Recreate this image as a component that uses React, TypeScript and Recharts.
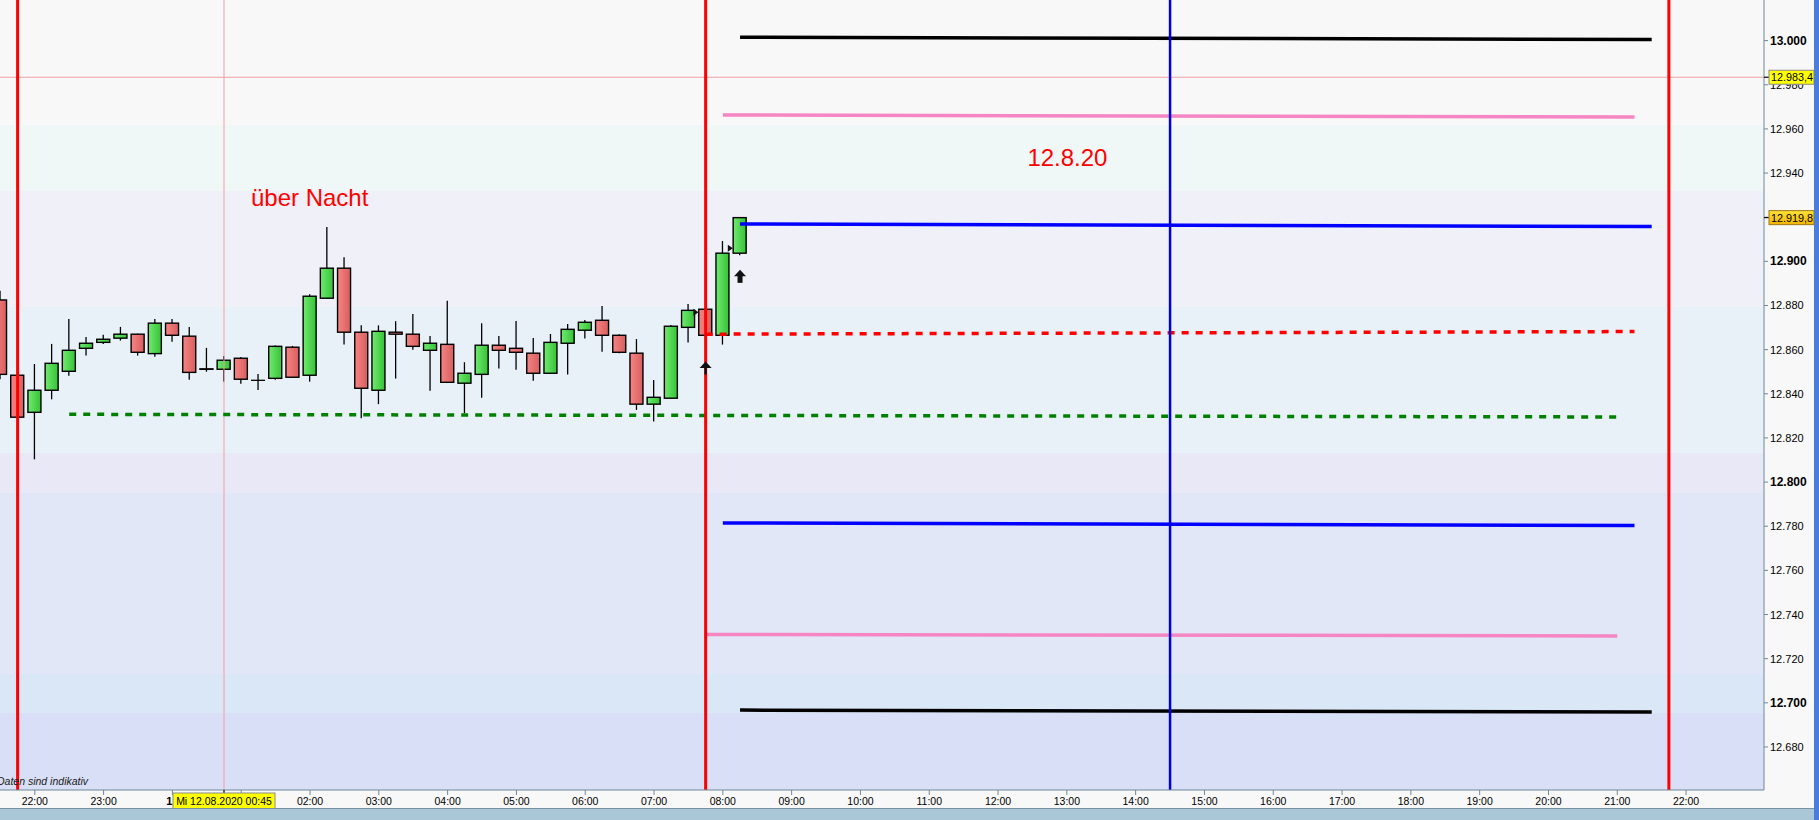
import React from 'react'
import {
  Bar,
  ComposedChart,
  ReferenceArea,
  ReferenceLine,
  Scatter,
  XAxis,
  YAxis,
} from 'recharts'

// x is minutes after 22:00 on 11.08.2020
const T = (hhmm: string, day = 12) => {
  const [h, m] = hhmm.split(':').map(Number)
  return (day - 11) * 1440 + h * 60 + m - 22 * 60
}

const candleTimes = [
  '21:30', '21:45', '22:00', '22:15', '22:30', '22:45', '23:00', '23:15', '23:30', '23:45',
  '00:00', '00:15', '00:30', '00:45', '01:00', '01:15', '01:30', '01:45', '02:00', '02:15',
  '02:30', '02:45', '03:00', '03:15', '03:30', '03:45', '04:00', '04:15', '04:30', '04:45',
  '05:00', '05:15', '05:30', '05:45', '06:00', '06:15', '06:30', '06:45', '07:00', '07:15',
  '07:30', '07:45', '08:00', '08:15',
]
const opens = [
  12882.5, 12848.4, 12831.6, 12841.6, 12850.2, 12860.6, 12863.3, 12865.2, 12867.0, 12858.2,
  12872.0, 12866.1, 12851.3, 12851.1, 12856.1, 12846.1, 12847.0, 12861.1, 12848.4, 12883.3,
  12896.9, 12867.9, 12841.6, 12867.9, 12867.0, 12859.7, 12862.4, 12844.8, 12848.8, 12862.0,
  12860.6, 12858.4, 12849.3, 12862.9, 12868.8, 12873.3, 12866.5, 12858.4, 12835.3, 12838.0,
  12870.1, 12878.3, 12866.5, 12903.7,
]
const highs = [
  12886.7, 12848.6, 12853.5, 12862.6, 12873.9, 12865.7, 12866.7, 12870.3, 12867.2, 12873.9,
  12873.9, 12870.3, 12860.8, 12857.1, 12856.7, 12849.0, 12861.9, 12861.7, 12885.1, 12915.6,
  12901.9, 12871.0, 12871.0, 12872.9, 12876.2, 12866.2, 12882.1, 12854.3, 12872.0, 12866.2,
  12873.0, 12865.3, 12867.1, 12871.6, 12873.4, 12879.8, 12867.0, 12864.8, 12846.3, 12871.2,
  12880.7, 12878.5, 12909.2, 12920.0,
]
const lows = [
  12846.6, 12829.2, 12810.3, 12837.5, 12848.2, 12857.3, 12862.6, 12864.1, 12857.3, 12856.8,
  12863.6, 12846.4, 12850.0, 12845.5, 12844.6, 12841.7, 12846.4, 12847.3, 12845.5, 12883.1,
  12862.3, 12828.9, 12835.3, 12846.9, 12860.0, 12841.4, 12845.0, 12831.2, 12838.2, 12851.4,
  12850.9, 12845.9, 12849.1, 12848.7, 12865.0, 12859.1, 12858.4, 12832.7, 12827.4, 12837.8,
  12863.2, 12866.3, 12862.3, 12902.8,
]
const closes = [
  12848.8, 12829.4, 12841.6, 12853.8, 12859.7, 12862.9, 12864.7, 12867.0, 12858.8, 12872.0,
  12866.5, 12849.7, 12851.1, 12855.2, 12846.6, 12846.1, 12861.5, 12847.5, 12884.2, 12896.9,
  12867.9, 12842.5, 12868.3, 12867.0, 12861.5, 12862.9, 12845.2, 12849.3, 12862.0, 12859.7,
  12858.8, 12849.3, 12863.3, 12869.2, 12872.4, 12866.5, 12858.8, 12835.3, 12838.4, 12870.6,
  12877.8, 12866.5, 12903.7, 12919.8,
]

// drawn support / resistance levels
const levelFrom = [T('08:15'), T('08:00'), T('08:15'), T('07:45'), T('22:30', 11), T('08:00'), T('07:45'), T('08:15')]
const levelTo = [T('21:30'), T('21:15'), T('21:30'), T('21:15'), T('21:00'), T('21:15'), T('21:00'), T('21:30')]
const levelFromValue = [13001.5, 12966.3, 12916.9, 12867.0, 12830.7, 12781.5, 12731.0, 12696.7]
const levelToValue = [13000.5, 12965.4, 12915.8, 12868.2, 12829.5, 12780.3, 12730.3, 12695.8]
const levelColors = ['#000000', '#f585c3', '#0000ff', '#ff0000', '#008000', '#0000ff', '#f585c3', '#000000']
const levelDashed = [false, false, false, true, true, false, false, false]

const sessionLines = [T('21:45', 11), T('07:45'), T('21:45')]
const midLine = T('14:30')
const crossTime = T('00:45')
const crossPrice = 12983.4
const lastPrice = 12919.8

const bandEdges = [13018.4, 12961.8, 12931.9, 12879.4, 12813.2, 12795.1, 12713.1, 12695.4, 12660.5]
const bandColors = ['#f8f8f8', '#f0f8f7', '#f0f0f9', '#e9f1f8', '#e8e8f7', '#e1e7f6', '#d9e7f6', '#d8dff7']

const upArrows = [
  { m: T('08:15'), v: 12893.2 },
  { m: T('07:45'), v: 12851.7 },
]
const pointers = [
  { m: T('08:00'), v: 12905.9 },
  { m: T('07:30'), v: 12876.9 },
]
const notes = [
  { m: 188.5, v: 12925.2, text: 'über Nacht' },
  { m: 865.6, v: 12943.2, text: '12.8.20' },
]

const xTicks = [
  0, 60, 120, 180, 240, 300, 360, 420, 480, 540, 600, 660, 720, 780, 840, 900, 960, 1020,
  1080, 1140, 1200, 1260, 1320, 1380, 1440, crossTime,
]
const yTicks = [
  12680, 12700, 12720, 12740, 12760, 12780, 12800, 12820, 12840, 12860, 12880, 12900, 12920,
  12940, 12960, 12980, 13000, 13020, lastPrice, crossPrice,
]

const candles = candleTimes.map((t, i) => ({
  m: T(t, Number(t.slice(0, 2)) >= 21 ? 11 : 12),
  o: opens[i],
  h: highs[i],
  l: lows[i],
  c: closes[i],
  range: [lows[i], highs[i]],
}))

const FONT = '"Liberation Sans", Arial, sans-serif'

const fmtPrice = (v: number, withDecimal = false) => {
  const int = Math.floor(v)
  const s = String(int)
  const base = `${s.slice(0, -3)}.${s.slice(-3)}`
  return withDecimal ? `${base},${Math.round((v - int) * 10)}` : base
}

const fmtTime = (m: number) => {
  const h = (22 + Math.floor(m / 60)) % 24
  const mm = m % 60
  return `${String(h).padStart(2, '0')}:${String(mm).padStart(2, '0')}`
}

const Candle = (props: any) => {
  const { x, y, width, height, payload } = props
  const { o, h, l, c } = payload
  const py = (v: number) => y + ((h - v) / (h - l)) * height
  const cx = x + width / 2
  const top = py(Math.max(o, c))
  const bot = py(Math.min(o, c))
  return (
    <g>
      <line x1={cx} x2={cx} y1={y} y2={y + height} stroke="#000" strokeWidth={1.3} />
      {o === c ? (
        <line x1={cx - 7} x2={cx + 7} y1={top} y2={top} stroke="#000" strokeWidth={1.3} />
      ) : (
        <rect
          x={cx - 6.5}
          y={top}
          width={13}
          height={Math.max(bot - top, 0.4)}
          fill={c >= o ? 'url(#candle-up)' : 'url(#candle-down)'}
          stroke="#000"
          strokeWidth={1.4}
        />
      )}
    </g>
  )
}

const TimeTick = (props: any) => {
  const { x, y, payload } = props
  const m = payload.value
  if (m === crossTime) {
    return (
      <g>
        <line x1={x} x2={x} y1={y - 7} y2={y - 2} stroke="#000" />
        <rect x={x - 51} y={y - 4} width={102} height={16} fill="#ffff00" stroke="#8a8a8a" />
        <text x={x} y={y + 8} textAnchor="middle" fontSize={10.5} fontFamily={FONT} fill="#000">
          Mi 12.08.2020 00:45
        </text>
      </g>
    )
  }
  const dayChange = m === 120
  return (
    <text
      x={x}
      y={y + 8}
      textAnchor="middle"
      fontSize={dayChange ? 11 : 10.5}
      fontWeight={dayChange ? 'bold' : 'normal'}
      fontFamily={FONT}
      fill="#000"
    >
      {dayChange ? '12' : fmtTime(m)}
    </text>
  )
}

const PriceTick = (props: any) => {
  const { x, y, payload } = props
  const v = payload.value
  if (v === crossPrice || v === lastPrice) {
    const last = v === lastPrice
    return (
      <g>
        <line x1={x - 6} x2={x - 1} y1={y} y2={y} stroke="#000" />
        <rect
          x={x - 1}
          y={y - 7}
          width={45}
          height={14}
          fill={last ? 'url(#last-box)' : '#ffff00'}
          stroke={last ? '#9a7a10' : '#8a8a8a'}
        />
        <text x={x + 1} y={y + 4} fontSize={10.8} fontFamily={FONT} fill="#000">
          {fmtPrice(v, true)}
        </text>
      </g>
    )
  }
  const bold = v % 100 === 0
  return (
    <text
      x={x}
      y={y + 4}
      fontSize={bold ? 12 : 11}
      fontWeight={bold ? 'bold' : 'normal'}
      fontFamily={FONT}
      fill="#000"
    >
      {fmtPrice(v)}
    </text>
  )
}

const UpArrow = (props: any) => {
  const { cx, cy, index } = props
  const stem = index === 0 ? 5 : 2.5
  return (
    <g>
      <polygon points={`${cx - 6},${cy} ${cx},${cy - 6.5} ${cx + 6},${cy}`} fill="#111" />
      <rect x={cx - stem / 2} y={cy - 0.5} width={stem} height={7} fill="#111" />
    </g>
  )
}

const Pointer = (props: any) => {
  const { cx, cy } = props
  return <polygon points={`${cx + 5},${cy - 3.5} ${cx + 10},${cy} ${cx + 5},${cy + 3.5}`} fill="#111" />
}

const Note = (props: any) => {
  const { cx, cy, payload } = props
  return (
    <text x={cx} y={cy} fontSize={24} fontFamily={FONT} fill="#ff0000">
      {payload.text}
    </text>
  )
}

export default function App() {
  return (
    <div
      style={{
        position: 'absolute',
        left: 0,
        top: 0,
        width: 1819,
        height: 820,
        background: '#f8f8f8',
        overflow: 'hidden',
      }}
    >
      <ComposedChart
        width={1814}
        height={808}
        data={candles}
        margin={{ top: 0, right: 0, bottom: 0, left: 0 }}
      >
        <defs>
          <linearGradient id="candle-up" x1="0" y1="0" x2="1" y2="0">
            <stop offset="0" stopColor="#70ea70" />
            <stop offset="1" stopColor="#36c236" />
          </linearGradient>
          <linearGradient id="candle-down" x1="0" y1="0" x2="1" y2="0">
            <stop offset="0" stopColor="#f68484" />
            <stop offset="1" stopColor="#d85e5e" />
          </linearGradient>
          <linearGradient id="last-box" x1="0" y1="0" x2="0" y2="1">
            <stop offset="0" stopColor="#ffe23a" />
            <stop offset="1" stopColor="#f2b400" />
          </linearGradient>
        </defs>
        <XAxis
          dataKey="m"
          type="number"
          domain={[-30.35, 1507.95]}
          allowDataOverflow
          ticks={xTicks}
          interval={0}
          tick={<TimeTick />}
          tickSize={5}
          height={18}
          axisLine={{ stroke: '#708898' }}
          tickLine={{ stroke: '#708898' }}
        />
        <YAxis
          orientation="right"
          type="number"
          domain={[12660.5, 13018.4]}
          allowDataOverflow
          ticks={yTicks}
          interval={0}
          tick={<PriceTick />}
          tickSize={4}
          width={50}
          axisLine={{ stroke: '#708898' }}
          tickLine={{ stroke: '#708898' }}
        />
        {bandColors.map((color, i) => (
          <ReferenceArea
            key={`band-${i}`}
            y1={bandEdges[i + 1]}
            y2={bandEdges[i]}
            fill={color}
            fillOpacity={1}
            stroke="none"
            ifOverflow="hidden"
          />
        ))}
        <ReferenceLine x={crossTime} stroke="#f0a0a6" strokeWidth={1} />
        <ReferenceLine y={crossPrice} stroke="#f0a0a6" strokeWidth={1} />
        <Bar dataKey="range" barSize={14} shape={(p: any) => <Candle {...p} />} isAnimationActive={false} />
        {levelFrom.map((from, i) => (
          <ReferenceLine
            key={`level-${i}`}
            segment={[
              { x: from, y: levelFromValue[i] },
              { x: levelTo[i], y: levelToValue[i] },
            ]}
            stroke={levelColors[i]}
            strokeWidth={3.5}
            strokeDasharray={levelDashed[i] ? '7 7' : undefined}
          />
        ))}
        {sessionLines.map((m, i) => (
          <ReferenceLine key={`session-${i}`} x={m} stroke="#ff0000" strokeWidth={3} />
        ))}
        <ReferenceLine x={midLine} stroke="#0000d8" strokeWidth={2.5} />
        <Scatter data={upArrows} dataKey="v" shape={(p: any) => <UpArrow {...p} />} isAnimationActive={false} />
        <Scatter data={pointers} dataKey="v" shape={(p: any) => <Pointer {...p} />} isAnimationActive={false} />
        <Scatter data={notes} dataKey="v" shape={(p: any) => <Note {...p} />} isAnimationActive={false} />
      </ComposedChart>
      <div
        style={{
          position: 'absolute',
          left: -3,
          top: 775,
          fontFamily: FONT,
          fontStyle: 'italic',
          fontSize: 10.5,
          color: '#202020',
        }}
      >
        Daten sind indikativ
      </div>
      <div
        style={{
          position: 'absolute',
          left: 0,
          top: 808,
          width: 1814,
          height: 12,
          background: '#a9c7d6',
          borderTop: '1px solid #7890a0',
        }}
      />
      <div
        style={{
          position: 'absolute',
          left: 1814,
          top: 0,
          width: 5,
          height: 820,
          background: '#4a7cdc',
        }}
      />
    </div>
  )
}
